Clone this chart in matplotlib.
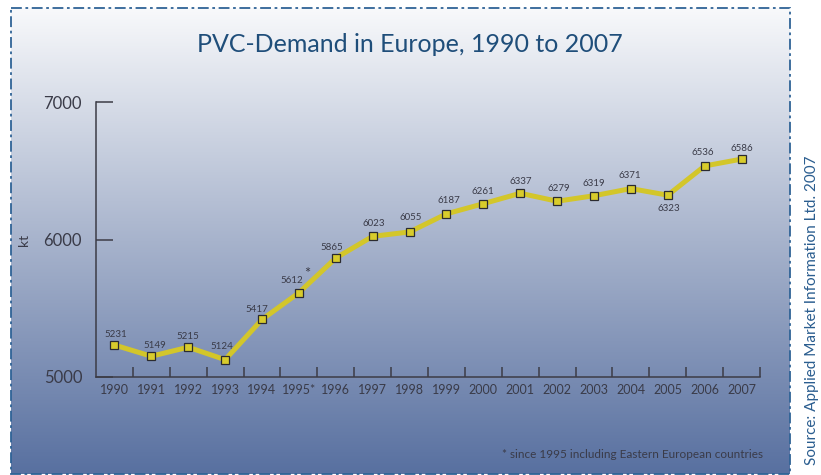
import numpy as np
import matplotlib
matplotlib.use('Agg')
import matplotlib.pyplot as plt
from matplotlib.patches import Rectangle
from matplotlib.colors import LinearSegmentedColormap

# Datos
years = list(range(1990, 2008))
demand = [5231, 5149, 5215, 5124, 5417, 5612, 5865, 6023, 6055,
          6187, 6261, 6337, 6279, 6319, 6371, 6323, 6536, 6586]
value_labels = ['5231', '5149', '5215', '5124', '5417', '5612', '5865', '6023', '6055',
                '6187', '6261', '6337', '6279', '6319', '6371', '6323', '6536', '6586']
year_labels = [str(y) for y in years]
year_labels[5] = '1995*'
y_ticks = [5000, 6000, 7000]

# desplazamiento de las etiquetas (px)
label_dx = [1, 3, 0, -3, -5, -7, -4, 1, 1, 2, 0, 1, 2, 0, -1, 1, -2, 0]
label_dy = [11, 11, 11, 13, 10, 12, 11, 13, 14, 13, 12, 12, 13, 12, 13, -13, 13, 11]

W, H = 821, 475
fig = plt.figure(figsize=(W / 100, H / 100), dpi=100)
fig.patch.set_facecolor('white')

# fondo con degradado
bg = fig.add_axes([0, 0, 1, 1])
bg.set_xlim(0, W)
bg.set_ylim(H, 0)
bg.axis('off')
cmap = LinearSegmentedColormap.from_list('bg', ['#f8f9fb', '#a7b3cc', '#5870a0'])
grad = np.linspace(0, 1, 256).reshape(-1, 1)
bg.imshow(grad, cmap=cmap, aspect='auto', extent=(11, 790, 474, 8), zorder=0)
bg.add_patch(Rectangle((11, 8), 779, 466, fill=False, edgecolor='#2f6396',
                       linewidth=1.3, linestyle=(0, (6, 2, 1.5, 2)), zorder=2))

txt_col = '#3a3b48'
fam = ['Lato', 'DejaVu Sans']

bg.text(410, 45, 'PVC-Demand in Europe, 1990 to 2007', ha='center', va='center',
        fontsize=18, color='#1f4e7a', family=fam)
bg.text(812, 310, 'Source: Applied Market Information Ltd. 2007', rotation=90,
        ha='center', va='center', fontsize=11, color='#2a5d8f', family=fam)
bg.text(763, 455, '* since 1995 including Eastern European countries', ha='right',
        va='center', fontsize=8.5, color=txt_col, family=fam)
bg.text(24, 240, 'kt', rotation=90, ha='center', va='center', fontsize=10,
        color=txt_col, family=fam)

# eje principal
ax = fig.add_axes([96 / W, (H - 376.7) / H, 664 / W, (376.7 - 102.3) / H])
ax.patch.set_alpha(0)
ax.set_xlim(1989.5, 2007.5)
ax.set_ylim(5000, 7000)
for s in ['top', 'right']:
    ax.spines[s].set_visible(False)
for s in ['left', 'bottom']:
    ax.spines[s].set_color('#3c3c46')
    ax.spines[s].set_linewidth(1.1)

ax.set_yticks(y_ticks)
ax.set_yticklabels([str(v) for v in y_ticks], fontsize=12, color=txt_col, family=fam)
ax.tick_params(axis='y', direction='in', length=12, width=1.1, color='#3c3c46', pad=10)

ax.set_xticks([y + 0.5 for y in years])
ax.set_xticklabels([])
ax.tick_params(axis='x', which='major', direction='in', length=7, width=1.1, color='#3c3c46')
ax.set_xticks(years, minor=True)
ax.set_xticklabels(year_labels, minor=True, fontsize=9, color=txt_col, family=fam)
ax.tick_params(axis='x', which='minor', length=0, pad=5)

ax.plot(years, demand, color='#d3c62a', linewidth=3.6, solid_joinstyle='miter', zorder=3,
        marker='s', markersize=5.5, markerfacecolor='#d8cc2c', markeredgecolor='#2b2b30',
        markeredgewidth=0.9)

for i in range(len(years)):
    ax.annotate(value_labels[i], (years[i], demand[i]),
                xytext=(label_dx[i] * 0.72, label_dy[i] * 0.72),
                textcoords='offset points', ha='center', va='center', fontsize=7,
                color=txt_col, family=fam, annotation_clip=False)
# asterisco de 5612
ax.annotate('*', (1995, 5612), xytext=(6, 13.5), textcoords='offset points',
            ha='center', va='center', fontsize=10.5, color=txt_col, family=fam)

fig.savefig('out.png', dpi=100, facecolor='white')
